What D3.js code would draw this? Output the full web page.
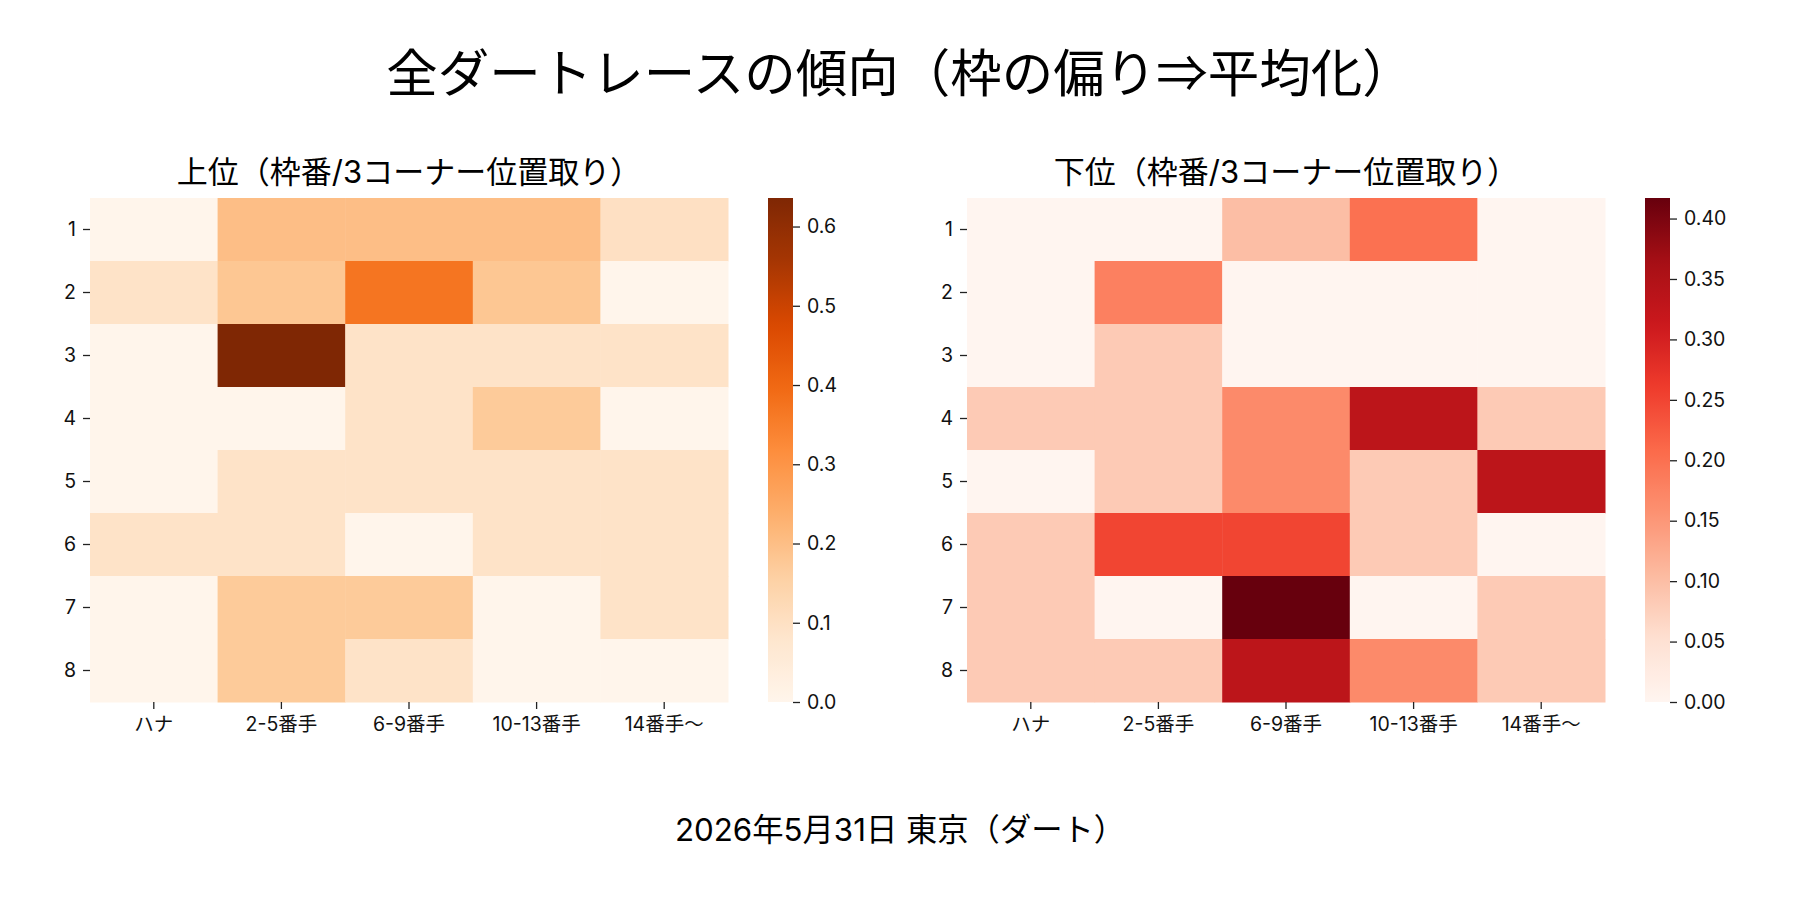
<!DOCTYPE html>
<html>
<head>
<meta charset="utf-8">
<script src="https://cdn.jsdelivr.net/npm/d3@7"></script>
<style>
  body { margin: 0; background: #fff; }
  text { font-family: "Inter", "Noto Sans CJK JP", sans-serif; }
  text.cjk { font-family: "Noto Sans CJK JP", sans-serif; }
</style>
</head>
<body>
<script>
// chart values
const rowLabels = ["1", "2", "3", "4", "5", "6", "7", "8"];
const colLabels = ["ハナ", "2-5番手", "6-9番手", "10-13番手", "14番手〜"];

// 上位 (Oranges)
const upperValues = [
  [0.00, 0.20, 0.20, 0.20, 0.10],
  [0.09, 0.18, 0.37, 0.18, 0.00],
  [0.00, 0.636, 0.09, 0.09, 0.09],
  [0.00, 0.00, 0.09, 0.17, 0.00],
  [0.00, 0.09, 0.09, 0.09, 0.09],
  [0.09, 0.09, 0.00, 0.09, 0.09],
  [0.00, 0.17, 0.17, 0.00, 0.09],
  [0.00, 0.17, 0.09, 0.00, 0.00]
];

// 下位 (Reds)
const lowerValues = [
  [0.00, 0.00, 0.10, 0.20, 0.00],
  [0.00, 0.18, 0.00, 0.00, 0.00],
  [0.00, 0.083, 0.00, 0.00, 0.00],
  [0.083, 0.083, 0.167, 0.333, 0.083],
  [0.00, 0.083, 0.167, 0.083, 0.333],
  [0.083, 0.25, 0.25, 0.083, 0.00],
  [0.083, 0.00, 0.417, 0.00, 0.083],
  [0.083, 0.083, 0.333, 0.167, 0.083]
];

const upperTicks = [0.0, 0.1, 0.2, 0.3, 0.4, 0.5, 0.6];
const lowerTicks = [0.00, 0.05, 0.10, 0.15, 0.20, 0.25, 0.30, 0.35, 0.40];

const orangeStops = ["#fff5eb", "#fee6ce", "#fdd0a2", "#fdae6b", "#fd8d3c", "#f16913", "#d94801", "#a63603", "#7f2704"];
const redStops = ["#fff5f0", "#fee0d2", "#fcbba1", "#fc9272", "#fb6a4a", "#ef3b2c", "#cb181d", "#a50f15", "#67000d"];

const width = 1800;
const height = 900;

const svg = d3.select("body")
    .append("svg")
    .attr("width", width)
    .attr("height", height);

//main title
svg.append("text")
    .attr("class", "cjk")
    .attr("x", 900)
    .attr("y", 92)
    .attr("text-anchor", "middle")
    .attr("font-size", "51.5px")
    .attr("fill", "#000")
    .text("全ダートレースの傾向（枠の偏り⇒平均化）");

//footer
svg.append("text")
    .attr("x", 900)
    .attr("y", 841)
    .attr("text-anchor", "middle")
    .attr("font-size", "31.3px")
    .attr("fill", "#000")
    .text("2026年5月31日 東京（ダート）");

const plotTop = 198, plotBottom = 702, cellsW = 638;

// draws one heatmap + colorbar
const drawPanel = (left, title, values, stops, ticks, fmt, id) => {
    const vmax = d3.max(values.flat());
    const cmap = d3.scaleLinear()
        .domain(d3.range(stops.length).map(i => i / (stops.length - 1)))
        .range(stops)
        .interpolate(d3.interpolateRgb)
        .clamp(true);
    const color = v => cmap(v / vmax);

    const x = d3.scaleBand().domain(colLabels).range([left, left + cellsW]);
    const y = d3.scaleBand().domain(rowLabels).range([plotTop, plotBottom]);

    const cells = [];
    values.forEach((row, i) => row.forEach((v, j) => cells.push({ r: rowLabels[i], c: colLabels[j], v: v })));

    svg.append("g").selectAll("rect")
        .data(cells)
        .enter()
        .append("rect")
        .attr("x", d => x(d.c))
        .attr("y", d => y(d.r))
        .attr("width", x.bandwidth() + 0.5)
        .attr("height", y.bandwidth() + 0.5)
        .attr("fill", d => color(d.v));

    //axes
    const yAxis = svg.append("g")
        .attr("transform", "translate(" + left + ",0)")
        .call(d3.axisLeft(y).tickSize(7).tickPadding(7).tickSizeOuter(0));
    const xAxis = svg.append("g")
        .attr("transform", "translate(0," + plotBottom + ")")
        .call(d3.axisBottom(x).tickSize(7).tickPadding(8).tickSizeOuter(0));
    [xAxis, yAxis].forEach(a => {
        a.select(".domain").remove();
        a.attr("font-family", null).attr("font-size", null);
        a.selectAll("line").attr("stroke", "#222").attr("stroke-width", 1.3);
        a.selectAll("text").attr("font-size", "19.5px").attr("fill", "#111");
    });

    //subplot title
    svg.append("text")
        .attr("x", left + cellsW / 2)
        .attr("y", 183)
        .attr("text-anchor", "middle")
        .attr("font-size", "31px")
        .attr("fill", "#000")
        .text(title);

    //colorbar
    const cbX = left + cellsW + 40;
    const grad = svg.append("defs").append("linearGradient")
        .attr("id", id)
        .attr("x1", 0).attr("y1", 1).attr("x2", 0).attr("y2", 0);
    d3.range(0, 1.0001, 0.02).forEach(t => {
        grad.append("stop").attr("offset", t).attr("stop-color", cmap(t));
    });
    svg.append("rect")
        .attr("x", cbX)
        .attr("y", plotTop)
        .attr("width", 25)
        .attr("height", plotBottom - plotTop)
        .attr("fill", "url(#" + id + ")");

    const cbScale = d3.scaleLinear().domain([0, vmax]).range([plotBottom, plotTop]);
    const cbAxis = svg.append("g")
        .attr("transform", "translate(" + (cbX + 25) + ",0)")
        .call(d3.axisRight(cbScale).tickValues(ticks).tickFormat(d3.format(fmt)).tickSize(7).tickPadding(7).tickSizeOuter(0));
    cbAxis.select(".domain").remove();
    cbAxis.attr("font-family", null).attr("font-size", null);
    cbAxis.selectAll("line").attr("stroke", "#222").attr("stroke-width", 1.3);
    cbAxis.selectAll("text").attr("font-size", "19.5px").attr("fill", "#111");
};

drawPanel(90, "上位（枠番/3コーナー位置取り）", upperValues, orangeStops, upperTicks, ".1f", "gradUpper");
drawPanel(967, "下位（枠番/3コーナー位置取り）", lowerValues, redStops, lowerTicks, ".2f", "gradLower");
</script>
</body>
</html>
